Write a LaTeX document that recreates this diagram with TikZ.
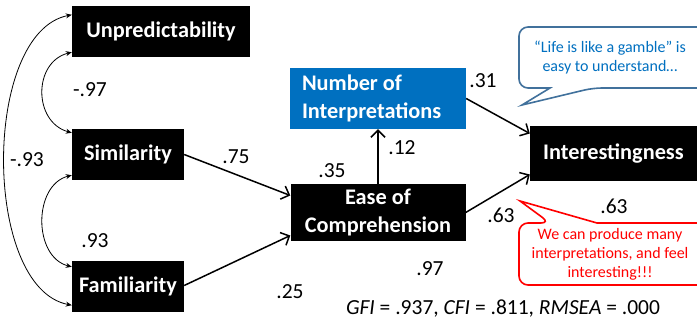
\documentclass[tikz,border=0pt]{standalone}
\usepackage{fontspec}
\setmainfont{Carlito}
\usetikzlibrary{arrows.meta,calc}
\definecolor{msblue}{HTML}{0070C0}
\definecolor{calloutedge}{HTML}{41719C}
\definecolor{alertred}{HTML}{FF0000}
\begin{document}
\begin{tikzpicture}[x=1pt,y=-1pt,
  var/.style={fill=black,text=white,inner sep=0pt,align=center,
    font=\fontsize{22.3}{28}\selectfont\bfseries},
  num/.style={inner sep=0pt,font=\fontsize{21.5}{26}\selectfont},
  bubbletext/.style={inner sep=0pt,align=center,font=\fontsize{16}{19}\selectfont},
  path/.style={line width=1.5pt,-{Straight Barb[length=7pt,width=14pt]}},
  cov/.style={line width=0.8pt,{Stealth[length=6pt,width=5pt]}-{Stealth[length=6pt,width=5pt]}},
  bubble/.style={line width=1.6pt,fill=white,rounded corners=9pt}]
\useasboundingbox (0,0) rectangle (697,324);
\clip (0,0) rectangle (697,324);

% exogenous variables
\node[var,minimum width=178pt,minimum height=51pt] (unp) at (161,31.5) {Unpredictability};
\node[var,minimum width=112pt,minimum height=51pt] (sim) at (128,154.5) {Similarity};
\node[var,minimum width=112pt,minimum height=51pt] (fam) at (128,286.5) {Familiarity};

% mediators and outcome
\node[var,fill=msblue,minimum width=176pt,minimum height=61pt,align=flush left,
  text width=152pt] (numint) at (378,98.5) {Number of\\Interpretations};
\node[var,minimum width=175pt,minimum height=57pt] (ease) at (378,212.5) {Ease of\\Comprehension};
\node[var,minimum width=167pt,minimum height=55pt] (intr) at (613.5,153.5) {Interestingness};

% correlations between exogenous variables
\draw[cov] ($(unp.south west)+(0,-5)$) .. controls (33,62) and (33,122) .. ($(sim.north west)+(0,4)$);
\draw[cov] ($(sim.south west)+(0,-5)$) .. controls (33,185) and (33,257) .. ($(fam.north west)+(0,6)$);
\draw[cov] ($(unp.north west)+(0,9)$) .. controls (-18,32) and (-18,288) .. ($(fam.south west)+(0,-7)$);

% directed paths
\draw[path] (sim.east) -- ($(ease.west)+(0,-17)$);
\draw[path] ($(fam.east)+(0,-1)$) -- ($(ease.west)+(0,23)$);
\draw[path] (ease.north) -- (numint.south);
\draw[path] (numint.east) -- ($(intr.west)+(0,-20)$);
\draw[path] (ease.east) -- ($(intr.west)+(0,21)$);

% coefficients
\node[num] (c1) at (90,90) {-.97};
\node[num] (c2) at (27,160) {-.93};
\node[num] (c3) at (95,241) {.93};
\node[num] (c4) at (236,157) {.75};
\node[num] (c5) at (290,292) {.25};
\node[num] (c6) at (332,171) {.35};
\node[num] (c7) at (402,148) {.12};
\node[num] (c8) at (483,81) {.31};
\node[num] (c9) at (501,215) {.63};
\node[num] (c10) at (614,206) {.63};
\node[num] (c11) at (430,269) {.97};
\node[num] (fit) at (503,309) {\textit{GFI} = .937, \textit{CFI} = .811, \textit{RMSEA} = .000};

% speech bubbles
\draw[bubble,draw=calloutedge] (519,57) -- (519,27) -- (712,27) -- (712,88) -- (593,88)
  [sharp corners] -- (522,105) -- (550,88) [rounded corners=9pt] -- (519,88) -- cycle;
\node[bubbletext,text=msblue] (gamble) at (610,58) {“Life is like a gamble” is\\easy to understand…};

\draw[bubble,draw=alertred] (519,254) -- (519,223) -- (550,223)
  [sharp corners] -- (520,201) -- (597,223) [rounded corners=9pt] -- (712,223) -- (712,285) -- (519,285) -- cycle;
\node[bubbletext,text=alertred] (feel) at (610,254) {We can produce many\\interpretations, and feel\\interesting!!!};
\end{tikzpicture}
\end{document}
